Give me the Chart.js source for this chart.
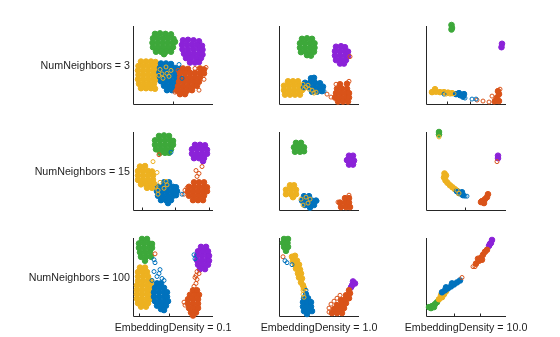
<!DOCTYPE html>
<html>
<head>
<meta charset="utf-8">
<script src="https://cdn.jsdelivr.net/npm/chart.js@4/dist/chart.umd.min.js"></script>
<style>
  body { margin: 0; background: #fff; width: 560px; height: 337px; position: relative; overflow: hidden;
         font-family: "Liberation Sans", Arial, sans-serif; }
  canvas { position: absolute; }
  .lab { position: absolute; font-size: 10.7px; line-height: 12px; color: #1f1f1f; white-space: nowrap; }
</style>
</head>
<body>
<script>
// Grid labels
const numNeighbors = [3, 15, 100];
const embeddingDensity = ['0.1', '1.0', '10.0'];

// Embedded coordinates per panel (x, y), grouped by class.
// NumNeighbors = 3
const n3_e01_green = [[22,71],[27,71.5],[32.5,71],[38,70.5],[20,66.5],[25,66.5],[30,66.5],[35,66.5],[40.5,66],[19.5,62],[24.5,62],[29.5,62],[34.5,62],[39.5,62],[42,63],[20,57.5],[25,57.5],[30,57.5],[35,57.5],[40,57.5],[23,53],[28,53],[33,53],[38,53],[31,50.5]];
const n3_e01_purple = [[50,64.5],[55,65],[60.5,64.5],[66,63.5],[49,60],[54,60],[59,60],[64,60],[69,59],[49.5,55.5],[55,55.5],[60.5,55.5],[66,55.5],[69.5,55],[51,51],[56,51],[61,51],[66,51],[69.5,50],[53,46.5],[58,46.5],[63.5,46.5],[68,46.5],[57,42],[62,42],[66,42.5]];
const n3_e01_yellow = [[8,43],[13,43],[18,43],[22.5,42.5],[5.5,38.5],[10.5,38.5],[15.5,38.5],[20.5,38.5],[24,38],[5,34],[10,34],[15,34],[20,34],[24,34],[5.5,29.5],[10.5,29.5],[15.5,29.5],[20.5,29.5],[24.5,29.5],[5,25],[10,25],[15,25],[20,25],[24,25],[6,20.5],[11,20.5],[16,20.5],[21,20.5],[8,16],[13,16],[18,16],[22,15.5]];
const n3_e01_blue = [[28,41],[33,41],[38,40.5],[27,36.5],[32,36.5],[37,36.5],[42,36.5],[47,35.5],[26.5,32],[31.5,32],[36.5,32],[41.5,32],[47,32],[27,27.5],[32,27.5],[37,27.5],[42,27.5],[46,27],[28,23],[33,23],[38,23],[43,23],[31,18.5],[36,18.5],[41,18.5],[34,14],[39,14]];
const n3_e01_orange = [[50,36],[55,35.5],[67,36],[71,35],[47,31.5],[52,31.5],[57,31.5],[62,31.5],[67,31.5],[71,31],[47,27],[52,27],[57,27],[62,27],[67,27],[46,22.5],[51,22.5],[56,22.5],[61,22.5],[66,22.5],[45,18],[50,18],[55,18],[60,18],[64,18.5],[44,13.5],[49,13.5],[54,13.5],[59,14],[47,10],[52,10]];
const n3_e01_yellowOpen = [[27,35],[33,37.5],[29,30.5],[34,31],[30,26],[36,28],[26,29],[38,34]];
const n3_e01_blueOpen = [[49,26],[46,40]];
const n3_e01_orangeOpen = [[42,12],[73,37],[71,25],[66,14],[62,36],[45,34]];

const n3_e1_green = [[23,66],[28,66.5],[33,66],[21,61.5],[26,61.5],[31,61.5],[35.5,61.5],[21,57],[26,57],[31,57],[35.5,57],[22,52.5],[27,52.5],[32,52.5],[35,53],[28,49.5],[32,49]];
const n3_e1_purple = [[57,58],[62,58.5],[66,57.5],[56,53.5],[61,53.5],[66,53.5],[69,53],[56,49],[61,49],[66,49],[69,48.5],[57,44.5],[62,44.5],[67,44.5],[61,41],[65,41]];
const n3_e1_yellow = [[9,23],[14,23],[19,23],[5,18.5],[10,18.5],[15,18.5],[20,18.5],[23,18],[5,14],[10,14],[15,14],[20,14],[23,14],[6,9.5],[11,9.5],[16,9.5],[21,9.5]];
const n3_e1_blue = [[32,26],[35,26.5],[26,21.5],[31,21.5],[36,21.5],[41,21],[25,17],[30,17],[35,17],[40,17],[44,17.5],[33,12.5],[38,12.5],[43,13]];
const n3_e1_orange = [[61,20],[68,20.5],[58,15.5],[63,15.5],[68,15.5],[57,11],[62,11],[67,11],[70,11],[56,6.5],[61,6.5],[66,6.5],[70,6.5],[59,2.5],[64,2.5],[69,2.5]];
const n3_e1_yellowOpen = [[24,20],[27,17],[30,15],[33,14],[35,11],[25,15],[29,19],[37,12]];
const n3_e1_blueOpen = [[45,13]];
const n3_e1_orangeOpen = [[48,10],[52,7],[57,20],[70,23],[71,48]];

const n3_e10_green = [[25.5,80],[26,77],[25.5,75.5]];
const n3_e10_purple = [[76,61],[75.5,57.5]];
const n3_e10_yellow = [[6,12],[10,12.5],[14,12],[18,12],[22,11.5],[26,11],[9,15]];
const n3_e10_blue = [[30,10],[34,9],[38,10],[37,7.5],[33,11]];
const n3_e10_orange = [[69,3],[73,3],[71,6.5],[73,10],[72,13]];
const n3_e10_yellowOpen = [[20,10],[24,10],[28,10.5]];
const n3_e10_blueOpen = [[18,10],[46,5],[50,5],[39,6]];
const n3_e10_orangeOpen = [[51,4],[57,3],[63,2],[74,15],[66,8],[68,2]];

// NumNeighbors = 15
const n15_e01_green = [[26,75],[31,75.5],[36,75],[22,70.5],[27,70.5],[32,70.5],[37,70.5],[40,70],[22,66],[27,66],[32,66],[37,66],[40,66],[23,61.5],[28,61.5],[33,61.5],[38,61.5],[27,58],[32,58],[36,58]];
const n15_e01_purple = [[62,66],[67,66],[72,65.5],[59,61.5],[64,61.5],[69,61.5],[74,61],[59,57],[64,57],[69,57],[74,57],[61,52.5],[66,52.5],[71,52.5],[70,49.5]];
const n15_e01_yellow = [[7,44],[12,44.5],[5,39.5],[10,39.5],[15,39.5],[19,39],[5,35],[10,35],[15,35],[20,35],[5,30.5],[10,30.5],[15,30.5],[20,30.5],[8,26],[13,26],[18,26],[21,26.5],[14,22.5],[19,22.5]];
const n15_e01_blue = [[31,28],[36,28],[25,23.5],[30,23.5],[35,23.5],[40,23.5],[43,23],[24,19],[29,19],[34,19],[39,19],[44,19],[25,14.5],[30,14.5],[35,14.5],[40,14.5],[43,15],[28,10],[33,10],[38,10],[35,7]];
const n15_e01_orange = [[61,28],[66,28],[71,28],[56,23.5],[61,23.5],[66,23.5],[71,23.5],[74,23],[55,19],[60,19],[65,19],[70,19],[74,19],[56,14.5],[61,14.5],[66,14.5],[71,14.5],[60,10],[65,10],[70,10]];
const n15_e01_yellowOpen = [[20,49],[24,38],[22,23],[25,20],[27,28],[31,22],[34,25.5],[25,16],[23,24],[33,29]];
const n15_e01_blueOpen = [[49,16],[38,58.5]];
const n15_e01_orangeOpen = [[26,56],[63,40],[66,37],[69,44],[64,34],[52,20],[55,17],[54,22.5],[51,16]];

const n15_e1_green = [[17,68],[22,68],[15,63.5],[20,63.5],[25,63.5],[16,59],[21,59],[25,59.5]];
const n15_e1_purple = [[70,55],[74,55],[68,50.5],[73,50.5],[75,50],[70,46],[74,46]];
const n15_e1_yellow = [[11,25],[15,25],[7,20.5],[12,20.5],[17,20.5],[7,16],[12,16],[17,16],[14,13]];
const n15_e1_blue = [[25,14],[30,14],[23,9.5],[28,9.5],[33,9.5],[37,9.5],[26,5],[31,5],[35,5],[31,2.5]];
const n15_e1_orange = [[66,12],[70,12],[61,7.5],[66,7.5],[70,7.5],[62,3],[67,3],[71,3]];
const n15_e1_yellowOpen = [[22,11],[27,13],[29,7],[24,5],[31,11]];
const n15_e1_blueOpen = [[38,9]];
const n15_e1_orangeOpen = [[59,8],[70,15]];

const n15_e10_green = [[13,79],[13,76.5]];
const n15_e10_purple = [[72,55],[72,52.5]];
const n15_e10_yellow = [[18.5,37],[18,33],[19.5,30],[21.5,27.5],[24,25],[26.5,23],[29,21],[31.5,19],[33,17],[20,35]];
const n15_e10_blue = [[31,19],[34,17],[37,15],[36,18]];
const n15_e10_orange = [[56,9],[59,11],[61,13],[62,16],[58,7],[55,8]];
const n15_e10_yellowOpen = [[13,74],[31,20],[33,17]];
const n15_e10_blueOpen = [[39,14],[41,14]];
const n15_e10_orangeOpen = [[71,49]];

// NumNeighbors = 100
const n100_e01_green = [[9,78],[14,78],[6,73.5],[11,73.5],[16,73.5],[19,73],[6,69],[11,69],[16,69],[19,69],[7,64.5],[12,64.5],[17,64.5],[8,60],[13,60],[18,60],[12,56]];
const n100_e01_purple = [[68,70],[73,70],[65,65.5],[70,65.5],[75,65.5],[64,61],[69,61],[74,61],[76,61],[64,56.5],[69,56.5],[74,56.5],[76,56],[65,52],[70,52],[75,52],[67,47.5],[72,47.5]];
const n100_e01_yellow = [[7,49],[12,49],[5,44.5],[10,44.5],[14,44.5],[5,40],[10,40],[15,40],[5,35.5],[10,35.5],[15,35.5],[18,35.5],[4,31],[9,31],[14,31],[18,31],[4,26.5],[9,26.5],[14,26.5],[18,26.5],[4,22],[9,22],[14,22],[18,22],[4,17.5],[9,17.5],[14,17.5],[18,17.5],[5,13],[10,13],[15,13],[8,9.5],[13,9.5]];
const n100_e01_blue = [[24,33],[28,33],[22,28.5],[27,28.5],[31,28.5],[21,24],[26,24],[31,24],[34,24],[21,19.5],[26,19.5],[31,19.5],[34,19.5],[22,15],[27,15],[32,15],[35,15],[24,10.5],[29,10.5],[33,10.5],[28,7],[31,6]];
const n100_e01_orange = [[60,26],[64,26],[57,21.5],[62,21.5],[66,21.5],[55,17],[60,17],[65,17],[55,12.5],[60,12.5],[65,12.5],[56,8],[61,8],[65,8],[58,3.5],[63,3.5],[60,0.5]];
const n100_e01_yellowOpen = [];
const n100_e01_blueOpen = [[21,45],[27,47],[24,40],[19,36],[29,38],[26,43],[31,36],[21,57],[22,54],[61,62],[62,58]];
const n100_e01_orangeOpen = [[22,63],[51,14],[52,11],[61,30],[63,33],[64,37],[63,41],[64,45],[62,39],[66,43]];

const n100_e1_green = [[5,78],[9,78],[4,74],[8.5,74],[5,70],[9,70],[7,66]];
const n100_e1_purple = [[74,35],[76,33],[73,31],[72,29]];
const n100_e1_yellow = [[13,60],[16,61],[14,56],[18,56],[16,52],[20,52],[17,48],[21,47],[19,43],[22,43],[20,39],[23,38],[22,34],[24,31],[25,28]];
const n100_e1_blue = [[27,22],[25,18],[29,18],[24,14],[28,14],[32,14],[24,9.5],[28,9.5],[32,9.5],[25,5],[29,5],[33,5],[28,2]];
const n100_e1_orange = [[53,3],[58,3],[63,3],[55,7],[60,7],[65,8],[58,11],[63,12],[67,13],[62,16],[66,17],[70,18],[67,21],[71,23],[70,26]];
const n100_e1_yellowOpen = [[24,26],[24,22],[25,19]];
const n100_e1_blueOpen = [[6,56],[8,54],[13,52],[27,26]];
const n100_e1_orangeOpen = [[4,60],[50,4],[50,8],[52,12],[55,15],[58,18],[61,21]];

const n100_e10_green = [[3,9],[6,10],[9,12],[11,14],[5,8],[8,9]];
const n100_e10_purple = [[63,71],[65,74],[66,77],[64,73]];
const n100_e10_yellow = [[13,17],[16,19],[18,22],[20,25],[15,21]];
const n100_e10_blue = [[16,24],[19,26],[22,28],[25,30],[28,32],[31,34],[34,36],[20,29],[26,33]];
const n100_e10_orange = [[50,53],[53,56],[55,59],[57,62],[59,65],[61,67],[52,58],[56,57]];
const n100_e10_yellowOpen = [];
const n100_e10_blueOpen = [];
const n100_e10_orangeOpen = [[36,39],[47,50],[49,50]];

// Bottom-axis tick positions per panel
const n3_e01_xticks = [40];
const n3_e1_xticks = [];
const n3_e10_xticks = [21, 44];
const n15_e01_xticks = [8.5, 42, 76];
const n15_e1_xticks = [];
const n15_e10_xticks = [39];
const n100_e01_xticks = [6, 36];
const n100_e1_xticks = [];
const n100_e10_xticks = [28, 54];

const panelData = [
  [n3_e01_green, n3_e01_purple, n3_e01_yellow, n3_e01_blue, n3_e01_orange, n3_e01_yellowOpen, n3_e01_blueOpen, n3_e01_orangeOpen, n3_e01_xticks],
  [n3_e1_green, n3_e1_purple, n3_e1_yellow, n3_e1_blue, n3_e1_orange, n3_e1_yellowOpen, n3_e1_blueOpen, n3_e1_orangeOpen, n3_e1_xticks],
  [n3_e10_green, n3_e10_purple, n3_e10_yellow, n3_e10_blue, n3_e10_orange, n3_e10_yellowOpen, n3_e10_blueOpen, n3_e10_orangeOpen, n3_e10_xticks],
  [n15_e01_green, n15_e01_purple, n15_e01_yellow, n15_e01_blue, n15_e01_orange, n15_e01_yellowOpen, n15_e01_blueOpen, n15_e01_orangeOpen, n15_e01_xticks],
  [n15_e1_green, n15_e1_purple, n15_e1_yellow, n15_e1_blue, n15_e1_orange, n15_e1_yellowOpen, n15_e1_blueOpen, n15_e1_orangeOpen, n15_e1_xticks],
  [n15_e10_green, n15_e10_purple, n15_e10_yellow, n15_e10_blue, n15_e10_orange, n15_e10_yellowOpen, n15_e10_blueOpen, n15_e10_orangeOpen, n15_e10_xticks],
  [n100_e01_green, n100_e01_purple, n100_e01_yellow, n100_e01_blue, n100_e01_orange, n100_e01_yellowOpen, n100_e01_blueOpen, n100_e01_orangeOpen, n100_e01_xticks],
  [n100_e1_green, n100_e1_purple, n100_e1_yellow, n100_e1_blue, n100_e1_orange, n100_e1_yellowOpen, n100_e1_blueOpen, n100_e1_orangeOpen, n100_e1_xticks],
  [n100_e10_green, n100_e10_purple, n100_e10_yellow, n100_e10_blue, n100_e10_orange, n100_e10_yellowOpen, n100_e10_blueOpen, n100_e10_orangeOpen, n100_e10_xticks]
];

// Layout of the 3x3 grid (page pixels)
const colLeft = [133, 279, 426];
const rowTop = [26, 132, 238];
const PW = 80, PH = 78, PAD = 10;

const COLORS = { green: '#3DA83A', purple: '#8B22D8', yellow: '#EDB120', blue: '#0072BD', orange: '#D95319' };

const axesPlugin = {
  id: 'axesLines',
  beforeDatasetsDraw(chart, args, opts) {
    const { ctx, scales: { x, y } } = chart;
    const x0 = Math.round(x.getPixelForValue(x.min)) + 0.5;
    const y0 = Math.round(y.getPixelForValue(y.min)) + 0.5;
    const x1 = x.getPixelForValue(x.max);
    const y1 = y.getPixelForValue(y.max);
    ctx.save();
    ctx.strokeStyle = '#262626';
    ctx.lineWidth = 1;
    ctx.beginPath();
    ctx.moveTo(x0, y1); ctx.lineTo(x0, y0); ctx.lineTo(x1, y0);
    (opts.xTicks || []).forEach(v => {
      const px = Math.round(x.getPixelForValue(v)) + 0.5;
      ctx.moveTo(px, y0); ctx.lineTo(px, y0 - 3);
    });
    ctx.stroke();
    ctx.restore();
  }
};

const toXY = arr => arr.map(([x, y]) => ({ x, y }));

function filled(data, color, order) {
  return { data: toXY(data), order, clip: false, showLine: false,
    pointRadius: 2.8, pointBorderWidth: 1, pointBackgroundColor: color, pointBorderColor: color,
    pointHoverRadius: 2.8 };
}
function open(data, color, order) {
  return { data: toXY(data), order, clip: false, showLine: false,
    pointRadius: 2, pointBorderWidth: 1, pointBackgroundColor: 'rgba(0,0,0,0)', pointBorderColor: color,
    pointHoverRadius: 2 };
}

panelData.forEach((p, i) => {
  const r = Math.floor(i / 3), c = i % 3;
  const cv = document.createElement('canvas');
  cv.width = PW + 2 * PAD; cv.height = PH + 2 * PAD;
  cv.style.left = (colLeft[c] - PAD) + 'px';
  cv.style.top = (rowTop[r] - PAD) + 'px';
  document.body.appendChild(cv);
  const [green, purple, yellow, blue, orange, yOpen, bOpen, oOpen, ticks] = p;
  new Chart(cv, {
    type: 'scatter',
    data: { datasets: [
      open(yOpen, COLORS.yellow, 1),
      open(bOpen, COLORS.blue, 2),
      open(oOpen, COLORS.orange, 3),
      filled(orange, COLORS.orange, 4),
      filled(blue, COLORS.blue, 5),
      filled(yellow, COLORS.yellow, 6),
      filled(purple, COLORS.purple, 7),
      filled(green, COLORS.green, 8)
    ] },
    options: {
      responsive: false, animation: false, events: [],
      layout: { padding: PAD },
      scales: {
        x: { type: 'linear', min: 0, max: 80, display: false },
        y: { type: 'linear', min: 0, max: 79, display: false }
      },
      plugins: { legend: { display: false }, tooltip: { enabled: false }, axesLines: { xTicks: ticks } }
    },
    plugins: [axesPlugin]
  });
});

// Row and column labels
numNeighbors.forEach((n, r) => {
  const d = document.createElement('div');
  d.className = 'lab';
  d.textContent = 'NumNeighbors = ' + n;
  d.style.right = (560 - 130) + 'px';
  d.style.top = (rowTop[r] + PH / 2 - 6) + 'px';
  document.body.appendChild(d);
});
embeddingDensity.forEach((e, c) => {
  const d = document.createElement('div');
  d.className = 'lab';
  d.textContent = 'EmbeddingDensity = ' + e;
  d.style.left = (colLeft[c] + PW / 2) + 'px';
  d.style.transform = 'translateX(-50%)';
  d.style.top = '321px';
  document.body.appendChild(d);
});
</script>
</body>
</html>
